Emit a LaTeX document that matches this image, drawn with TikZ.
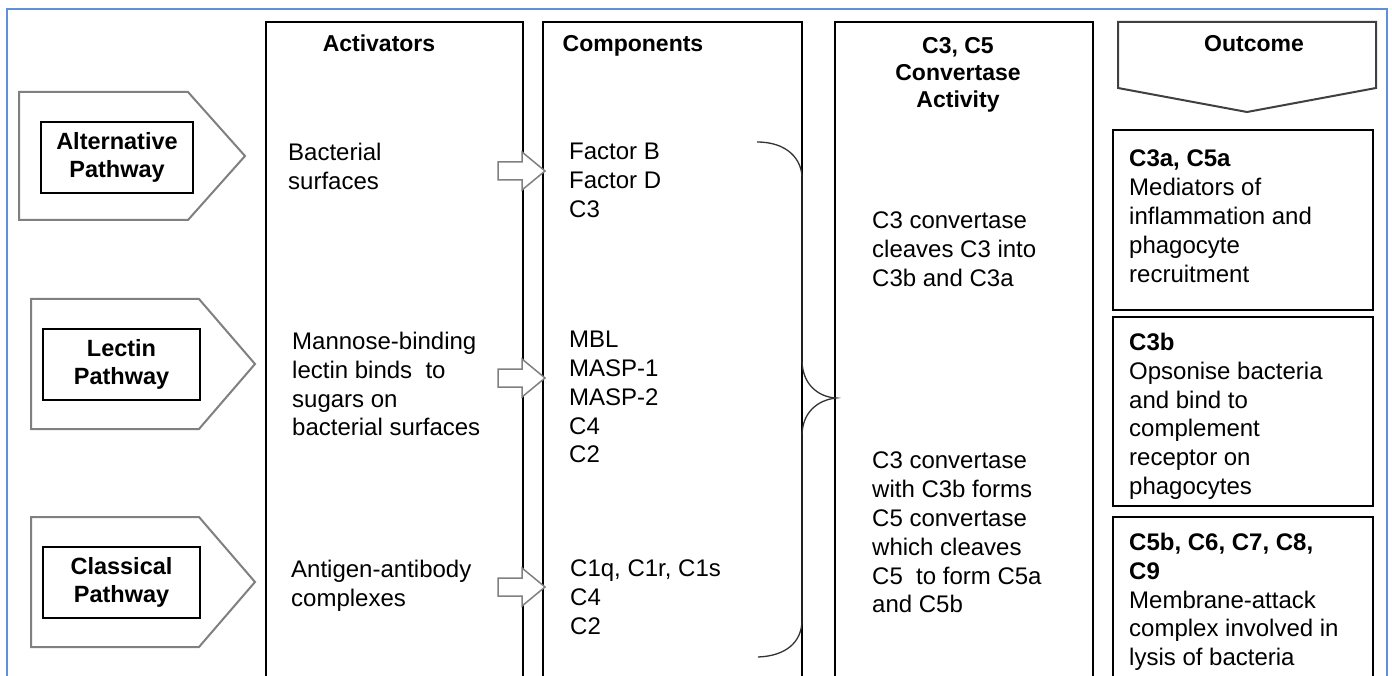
\documentclass[tikz,border=0pt]{standalone}
\usepackage{fontspec}
\setmainfont{Liberation Sans}
\definecolor{frameblue}{RGB}{95,145,215}
\definecolor{pentgray}{RGB}{128,128,128}
\begin{document}
\begin{tikzpicture}[x=1pt,y=-1pt,
  colbox/.style={draw=black, line width=1.5pt},
  pentshape/.style={draw=pentgray, line width=2pt, fill=white},
  pathlab/.style={draw=black, line width=1.8pt, inner sep=0pt, align=center,
     font=\bfseries\fontsize{23.5}{28}\selectfont},
  body/.style={anchor=north west, inner sep=0pt, align=left,
     font=\fontsize{24}{28.8}\selectfont},
  hdr/.style={anchor=north, inner sep=0pt, align=center,
     font=\bfseries\fontsize{23}{27}\selectfont},
  blockarrow/.style={draw=pentgray, line width=1.5pt, fill=white},
  outbox/.style={draw=black, line width=1.8pt},
  bracestyle/.style={draw=black!80, line width=1.3pt},
  frameline/.style={draw=frameblue, line width=2pt}]
\useasboundingbox (0,0) rectangle (1392,676);
\clip (0,0) rectangle (1392,676);
\fill[white] (0,0) rectangle (1392,676);
% outer frame
\draw[frameline] (7,700) -- (7,9) -- (1387,9) -- (1387,700);
% columns
\draw[colbox] (266,22) rectangle (523,700);
\draw[colbox] (543,22) rectangle (802,700);
\draw[colbox] (835,22) rectangle (1093,700);
% outcome header pentagon
\draw[pentshape, draw=black!75] (1118,22) -- (1376,22) -- (1376,88) -- (1247,112) -- (1118,88) -- cycle;
% pathway pentagons
\draw[pentshape] (19,92) -- (188,92) -- (245,156) -- (188,220) -- (19,220) -- cycle;
\draw[pentshape] (31,299) -- (199,299) -- (255,364) -- (199,429) -- (31,429) -- cycle;
\draw[pentshape] (31,517) -- (199,517) -- (255,582) -- (199,647) -- (31,647) -- cycle;
\node[pathlab, minimum width=152pt, minimum height=71pt] (alt) at (117,157.5) {Alternative\\Pathway};
\node[pathlab, minimum width=157pt, minimum height=71pt] (lec) at (121.5,364.5) {Lectin\\Pathway};
\node[pathlab, minimum width=157pt, minimum height=71pt] (cla) at (121.5,582.5) {Classical\\Pathway};
% headers
\node[hdr] (hact) at (379,35) {Activators};
\node[hdr] (hcomp) at (633,35) {Components};
\node[hdr] (hconv) at (958,37) {C3, C5\\Convertase\\Activity};
\node[hdr] (hout) at (1254,35) {Outcome};
% activators
\node[body] (a1) at (288,143) {Bacterial\\surfaces};
\node[body] (a2) at (292,332) {Mannose-binding\\lectin binds\ \ to\\sugars on\\bacterial surfaces};
\node[body] (a3) at (291,560) {Antigen-antibody\\complexes};
% components
\node[body] (c1) at (569,143) {Factor B\\Factor D\\C3};
\node[body] (c2) at (569,331) {MBL\\MASP-1\\MASP-2\\C4\\C2};
\node[body] (c3) at (570,560) {C1q, C1r, C1s\\C4\\C2};
% block arrows
\foreach \yc in {171,378,587}{
  \draw[blockarrow] (498,\yc-9) -- (522,\yc-9) -- (522,\yc-19) -- (545,\yc)
     -- (522,\yc+19) -- (522,\yc+9) -- (498,\yc+9) -- cycle;
}
% brace
\draw[bracestyle] (757,142) .. controls (788,142) and (802,160) .. (802,178)
   -- (802,360) .. controls (802,384) and (818,397) .. (836,398)
   .. controls (818,400) and (802,412) .. (802,436)
   -- (802,620) .. controls (802,642) and (786,656) .. (758,657);
% convertase texts
\node[body] (v1) at (872,212) {C3 convertase\\cleaves C3 into\\C3b and C3a};
\node[body] (v2) at (872,452) {C3 convertase\\with C3b forms\\C5 convertase\\which cleaves\\C5\ \ to form C5a\\and C5b};
% outcome boxes
\draw[outbox] (1113,130) rectangle (1373,310);
\draw[outbox] (1113,317) rectangle (1373,506);
\draw[outbox] (1113,517) rectangle (1373,700);
\node[body] (o1) at (1129,150) {\textbf{C3a, C5a}\\Mediators of\\inflammation and\\phagocyte\\recruitment};
\node[body] (o2) at (1129,333) {\textbf{C3b}\\Opsonise bacteria\\and bind to\\complement\\receptor on\\phagocytes};
\node[body] (o3) at (1129,533) {\textbf{C5b, C6, C7, C8,}\\\textbf{C9}\\Membrane-attack\\complex involved in\\lysis of bacteria};
\end{tikzpicture}
\end{document}
